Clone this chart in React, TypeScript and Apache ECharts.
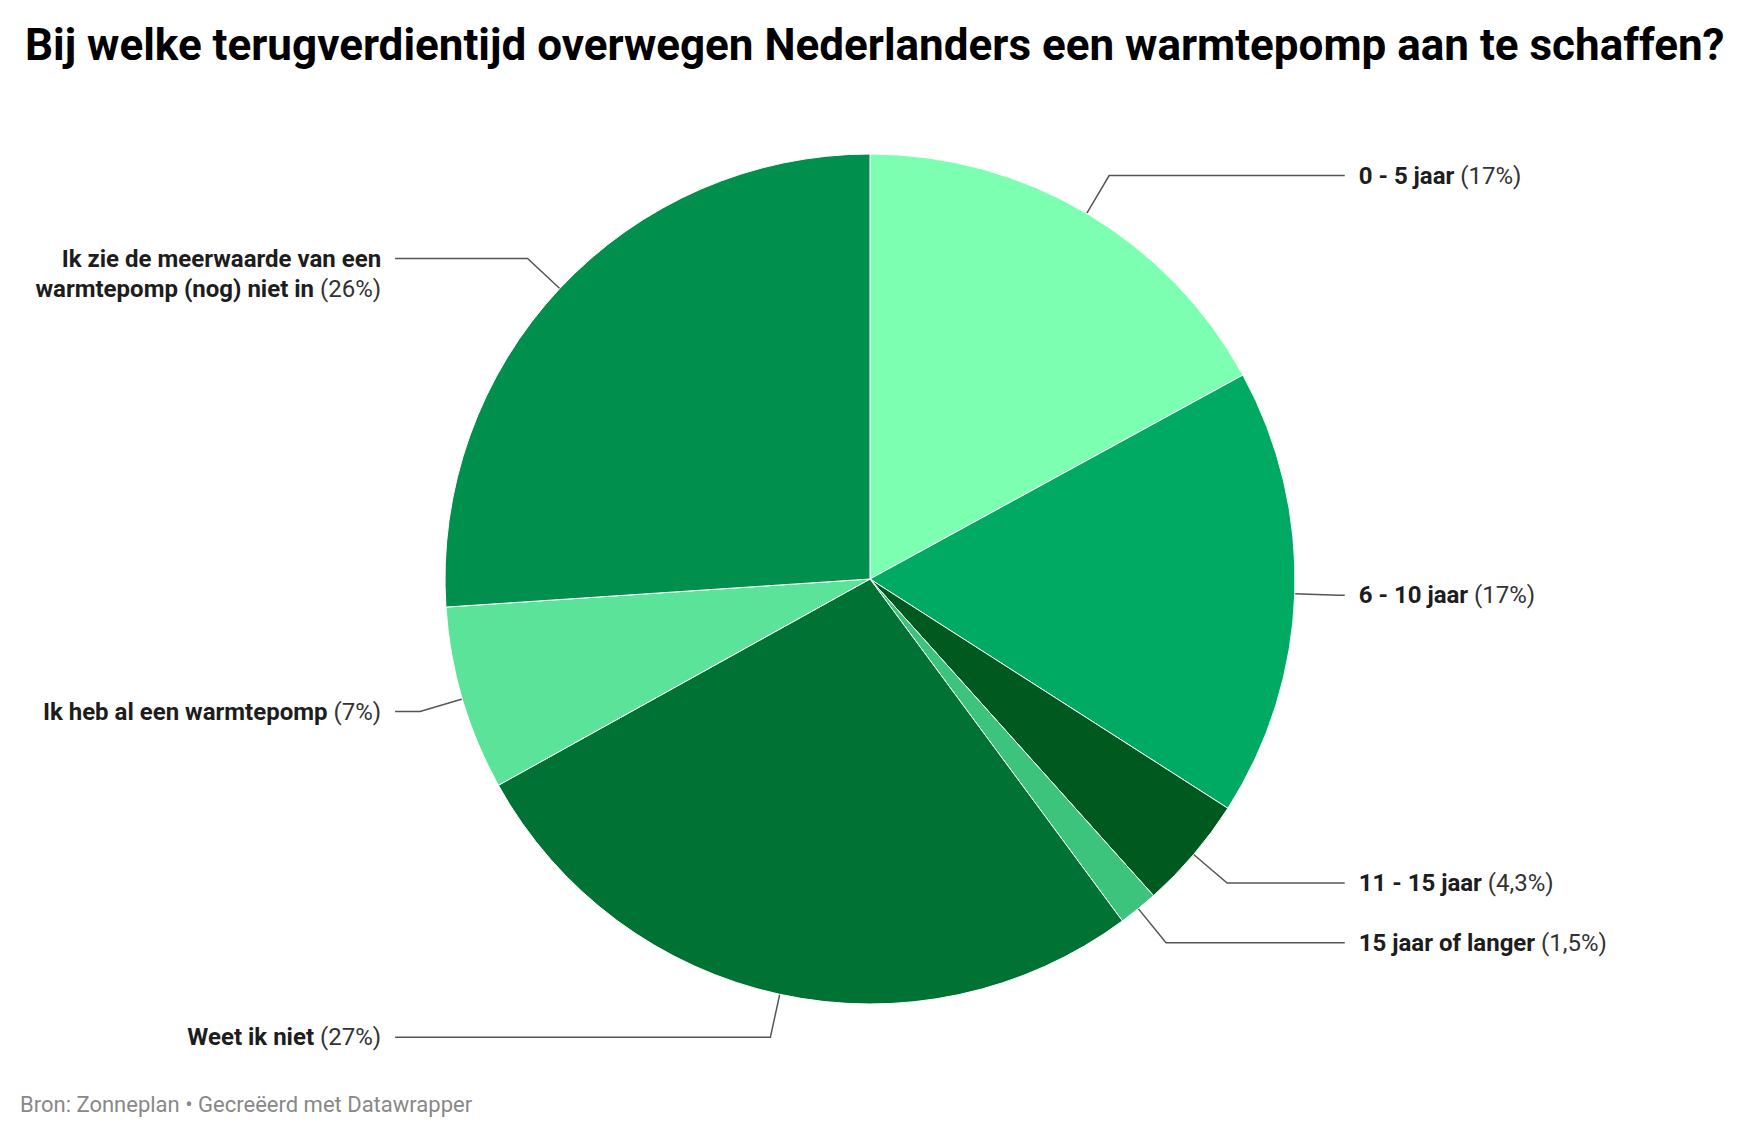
import React, { useEffect, useRef } from "react";
import * as echarts from "echarts";

const TITLE = "Bij welke terugverdientijd overwegen Nederlanders een warmtepomp aan te schaffen?";
const SOURCE = "Bron: Zonneplan • Gecreëerd met Datawrapper";

const categories = [
  "0 - 5 jaar",
  "6 - 10 jaar",
  "11 - 15 jaar",
  "15 jaar of langer",
  "Weet ik niet",
  "Ik heb al een warmtepomp",
  "Ik zie de meerwaarde van een\nwarmtepomp (nog) niet in",
];
const values = [17, 17, 4.3, 1.5, 27, 7, 26];
const colors = ["#7dffb1", "#00aa63", "#005a1f", "#3cc47d", "#007234", "#5ce39a", "#008f4c"];
const sides = ["right", "right", "right", "right", "left", "left", "left"];

const FONT = "Roboto, 'Noto Sans', sans-serif";

function fmt(v: number) {
  return String(v).replace(".", ",");
}

export default function App() {
  const ref = useRef<HTMLDivElement>(null);
  useEffect(() => {
    document.body.style.margin = "0";
    const chart = echarts.init(ref.current!, undefined, { renderer: "svg" });
    const data = categories.map((name, i) => ({
      name,
      value: values[i],
      itemStyle: { color: colors[i] },
      labelLine: { length: 44, length2: sides[i] === "right" ? 6 : 25 },
      label: i === 6 ? { padding: [30, 0, 0, 0] } : {},
    }));
    chart.setOption({
      animation: false,
      backgroundColor: "#ffffff",
      title: {
        text: TITLE,
        left: 20,
        top: 18,
        textStyle: { fontFamily: FONT, fontSize: 44, fontWeight: "bold", color: "#000000" },
      },
      graphic: [
        {
          type: "text",
          left: 20,
          top: 1093,
          style: { text: SOURCE, fontFamily: FONT, fontSize: 22, fill: "#888888" },
        },
      ],
      series: [
        {
          type: "pie",
          center: [870, 579],
          radius: 425,
          startAngle: 90,
          clockwise: true,
          data,
          itemStyle: { borderColor: "#ffffff", borderWidth: 1 },
          label: {
            show: true,
            position: "outer",
            alignTo: "labelLine",
            distanceToLabelLine: 14,
            fontFamily: FONT,
            fontSize: 24,
            lineHeight: 30,
            color: "#1d1d1d",
            formatter: (p: any) => {
              const lines = String(p.name).split("\n");
              const body = lines.map((l) => `{b|${l}}`).join("\n");
              return `${body} {p|(${fmt(p.value)}%)}`;
            },
            rich: {
              b: { fontFamily: FONT, fontSize: 24, fontWeight: "bold", color: "#1d1d1d", lineHeight: 30 },
              p: { fontFamily: FONT, fontSize: 24, color: "#333333", lineHeight: 30 },
            },
          },
          labelLine: {
            show: true,
            smooth: false,
            lineStyle: { color: "#555555", width: 1.5 },
          },
          emphasis: { disabled: true },
        },
      ],
    });
    return () => chart.dispose();
  }, []);
  return <div ref={ref} style={{ width: 1740, height: 1138 }} />;
}
